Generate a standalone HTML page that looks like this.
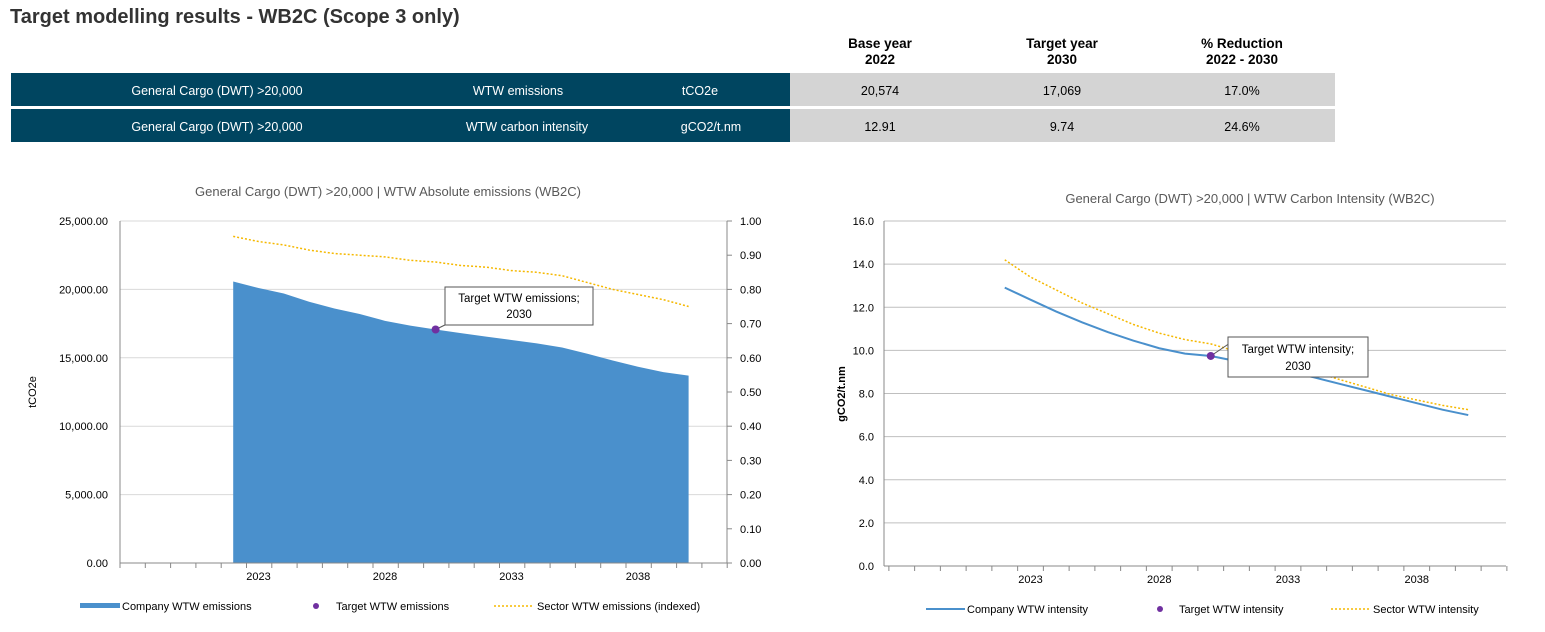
<!DOCTYPE html>
<html><head><meta charset="utf-8">
<style>
body{margin:0;width:1545px;height:632px;background:#fff;font-family:"Liberation Sans",Arial,sans-serif;overflow:hidden;position:relative}
.t{position:absolute}
</style></head><body>
<div class="t" style="left:10px;top:6px;font-size:20px;font-weight:bold;color:#333">Target modelling results - WB2C (Scope 3 only)</div>
<svg width="1545" height="632" style="position:absolute;left:0;top:0" id="svg" font-family="Liberation Sans, Arial, sans-serif">
 <g font-size="12.5" text-anchor="middle">
  <text x="880" y="48" font-weight="bold" font-size="13.5">Base year</text><text x="880" y="64" font-weight="bold" font-size="13.5">2022</text>
  <text x="1062" y="48" font-weight="bold" font-size="13.5">Target year</text><text x="1062" y="64" font-weight="bold" font-size="13.5">2030</text>
  <text x="1242" y="48" font-weight="bold" font-size="13.5">% Reduction</text><text x="1242" y="64" font-weight="bold" font-size="13.5">2022 - 2030</text>
  <rect x="11" y="73" width="779" height="33" fill="#004560"/><rect x="790" y="73" width="545" height="33" fill="#d4d4d4"/>
  <rect x="11" y="109" width="779" height="33" fill="#004560"/><rect x="790" y="109" width="545" height="33" fill="#d4d4d4"/>
  <text x="217" y="95" fill="#fff">General Cargo (DWT) &gt;20,000</text><text x="518" y="95" fill="#fff">WTW emissions</text><text x="700" y="95" fill="#fff">tCO2e</text>
  <text x="880" y="95">20,574</text><text x="1062" y="95">17,069</text><text x="1242" y="95">17.0%</text>
  <text x="217" y="131" fill="#fff">General Cargo (DWT) &gt;20,000</text><text x="527" y="131" fill="#fff">WTW carbon intensity</text><text x="711" y="131" fill="#fff">gCO2/t.nm</text>
  <text x="880" y="131">12.91</text><text x="1062" y="131">9.74</text><text x="1242" y="131">24.6%</text>
 </g>
 <g id="c1"></g>
 <g id="c2"></g>
</svg>
<script>
const years=[2022,2023,2024,2025,2026,2027,2028,2029,2030,2031,2032,2033,2034,2035,2036,2037,2038,2039,2040];
const emissions=[20574,20100,19700,19100,18600,18200,17700,17350,17069,16800,16550,16300,16050,15750,15300,14800,14350,13950,13700];
const sectorIndexed=[0.955,0.94,0.93,0.915,0.905,0.90,0.895,0.885,0.88,0.87,0.865,0.855,0.85,0.84,0.82,0.80,0.785,0.77,0.75];
const targetYear=2030, targetEmissions=17069, targetIntensity=9.74;
const intensity=[12.91,12.35,11.8,11.3,10.85,10.45,10.1,9.85,9.74,9.5,9.25,9.0,8.75,8.45,8.15,7.85,7.55,7.25,7.0];
const sectorIntensity=[14.2,13.4,12.8,12.2,11.7,11.2,10.8,10.5,10.3,9.95,9.6,9.3,9.0,8.65,8.3,7.95,7.7,7.45,7.25];
const leftTicks=[0,5000,10000,15000,20000,25000];
const rightTicks=[0,0.1,0.2,0.3,0.4,0.5,0.6,0.7,0.8,0.9,1.0];
const intTicks=[0,2,4,6,8,10,12,14,16];
const xLabels=[2023,2028,2033,2038];
const NS='http://www.w3.org/2000/svg';
function el(p,t,a,txt){const e=document.createElementNS(NS,t);for(const k in a)e.setAttribute(k,a[k]);if(txt!==undefined)e.textContent=txt;p.appendChild(e);return e;}
// chart 1
(function(){
 const g=document.getElementById('c1');
 const L=120,R=727,T=221,B=563,step=25.3;
 const x=y=>258.5+(y-2023)*step, y=v=>B-(v/25000)*(B-T), y2=v=>B-(v/1)*(B-T);
 const tt=el(g,'text',{x:388,y:196,'font-size':13,fill:'#595959','text-anchor':'middle'},'General Cargo (DWT) >20,000 | WTW Absolute emissions (WB2C)');
 
 leftTicks.forEach(v=>{el(g,'line',{x1:L,x2:R,y1:y(v),y2:y(v),stroke:'#d9d9d9'});
  const t=el(g,'text',{x:108,y:y(v)+4,'font-size':11,'text-anchor':'end'},v.toLocaleString('en-US',{minimumFractionDigits:2}));
  });
 rightTicks.forEach(v=>{const t=el(g,'text',{x:740,y:y2(v)+4,'font-size':11},v.toFixed(2));
  
  el(g,'line',{x1:R,x2:R+5,y1:y2(v),y2:y2(v),stroke:'#888'});});
 let d='M'+x(years[0])+','+B;years.forEach((yr,i)=>d+=' L'+x(yr)+','+y(emissions[i]));d+=' L'+x(years[years.length-1])+','+B+'Z';
 const a=el(g,'path',{d,fill:'#4a90cc'});
 el(g,'line',{x1:L,x2:L,y1:T,y2:B,stroke:'#888'});el(g,'line',{x1:R,x2:R,y1:T,y2:B,stroke:'#888'});el(g,'line',{x1:L,x2:R,y1:B,y2:B,stroke:'#888'});
 for(let px=L;px<=R+1;px+=step)el(g,'line',{x1:px,x2:px,y1:B,y2:B+5,stroke:'#888'});
 xLabels.forEach(yr=>{const t=el(g,'text',{x:x(yr),y:B+17,'font-size':11,'text-anchor':'middle'},yr);});
 const sl=el(g,'polyline',{points:years.map((yr,i)=>x(yr)+','+y2(sectorIndexed[i])).join(' '),fill:'none',stroke:'#f5b800','stroke-width':1.5,'stroke-dasharray':'2,2'});
 
 const tx=x(targetYear),ty=y(targetEmissions);
 el(g,'line',{x1:tx,y1:ty,x2:447,y2:324,stroke:'#555'});
 el(g,'rect',{x:445,y:287,width:148,height:38,fill:'#fff',stroke:'#555'});
 el(g,'text',{x:519,y:302,'font-size':11.5,'text-anchor':'middle'},'Target WTW emissions;');el(g,'text',{x:519,y:318,'font-size':11.5,'text-anchor':'middle'},'2030');
 const pt=el(g,'circle',{cx:tx,cy:ty,r:4,fill:'#7030a0'});
 el(g,'text',{x:36,y:392,'font-size':11,'text-anchor':'middle',transform:'rotate(-90 36 392)'},'tCO2e');
 const lg=el(g,'g',{});
 el(lg,'rect',{x:80,y:603,width:40,height:5,fill:'#4a90cc'});el(lg,'text',{x:122,y:610,'font-size':11},'Company WTW emissions');
 el(lg,'circle',{cx:316,cy:606,r:3,fill:'#7030a0'});el(lg,'text',{x:336,y:610,'font-size':11},'Target WTW emissions');
 el(lg,'line',{x1:494,x2:533,y1:606,y2:606,stroke:'#f5b800','stroke-width':1.5,'stroke-dasharray':'2,2'});el(lg,'text',{x:537,y:610,'font-size':11},'Sector WTW emissions (indexed)');
})();
// chart 2
(function(){
 const g=document.getElementById('c2');
 const L=884,R=1506,T=221,B=566,step=25.75;
 const x=y=>1030.5+(y-2023)*step, y=v=>B-(v/16)*(B-T);
 const tt=el(g,'text',{x:1250,y:203,'font-size':13,fill:'#595959','text-anchor':'middle'},'General Cargo (DWT) >20,000 | WTW Carbon Intensity (WB2C)');
 
 intTicks.forEach(v=>{el(g,'line',{x1:L,x2:R,y1:y(v),y2:y(v),stroke:'#bfbfbf'});
  const t=el(g,'text',{x:874,y:y(v)+4,'font-size':11,'text-anchor':'end'},v.toFixed(1));});
 el(g,'line',{x1:L,x2:L,y1:T,y2:B,stroke:'#888'});el(g,'line',{x1:L,x2:R,y1:B,y2:B,stroke:'#888'});
 for(let px=x(2023)-step/2-5*step;px<=R+1;px+=step)el(g,'line',{x1:px,x2:px,y1:B,y2:B+5,stroke:'#888'});
 xLabels.forEach(yr=>{const t=el(g,'text',{x:x(yr),y:B+17,'font-size':11,'text-anchor':'middle'},yr);});
 const sl=el(g,'polyline',{points:years.map((yr,i)=>x(yr)+','+y(sectorIntensity[i])).join(' '),fill:'none',stroke:'#f5b800','stroke-width':1.5,'stroke-dasharray':'2,2'});
 
 const cl=el(g,'polyline',{points:years.map((yr,i)=>x(yr)+','+y(intensity[i])).join(' '),fill:'none',stroke:'#4a90cc','stroke-width':2});
 
 const tx=x(targetYear),ty=y(targetIntensity);
 el(g,'line',{x1:tx,y1:ty,x2:1230,y2:343,stroke:'#555'});
 el(g,'rect',{x:1228,y:337,width:140,height:40,fill:'#fff',stroke:'#555'});
 el(g,'text',{x:1298,y:353,'font-size':11.5,'text-anchor':'middle'},'Target WTW intensity;');el(g,'text',{x:1298,y:370,'font-size':11.5,'text-anchor':'middle'},'2030');
 const pt=el(g,'circle',{cx:tx,cy:ty,r:4,fill:'#7030a0'});
 el(g,'text',{x:845,y:394,'font-size':11,'font-weight':'bold','text-anchor':'middle',transform:'rotate(-90 845 394)'},'gCO2/t.nm');
 const lg=el(g,'g',{});
 el(lg,'line',{x1:926,x2:965,y1:609,y2:609,stroke:'#4a90cc','stroke-width':2});el(lg,'text',{x:967,y:613,'font-size':11},'Company WTW intensity');
 el(lg,'circle',{cx:1160,cy:609,r:3,fill:'#7030a0'});el(lg,'text',{x:1179,y:613,'font-size':11},'Target WTW intensity');
 el(lg,'line',{x1:1331,x2:1370,y1:609,y2:609,stroke:'#f5b800','stroke-width':1.5,'stroke-dasharray':'2,2'});el(lg,'text',{x:1373,y:613,'font-size':11},'Sector WTW intensity');
})();
</script>
</body></html>
